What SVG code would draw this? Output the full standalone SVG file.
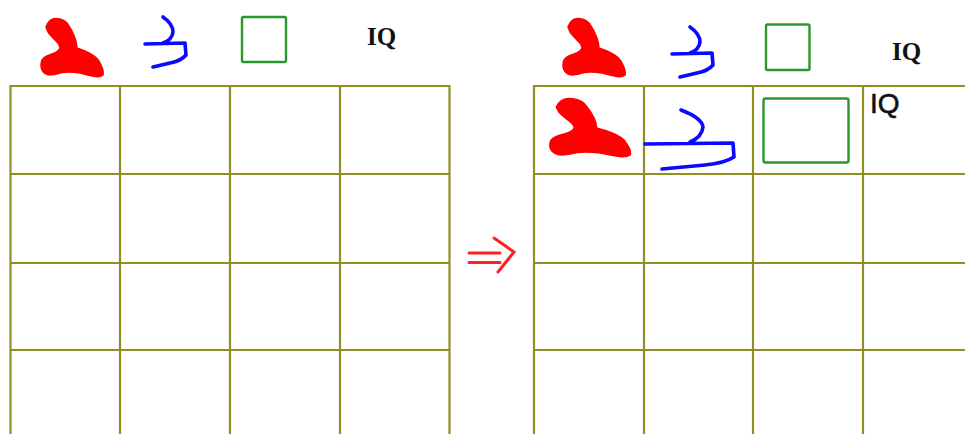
<svg xmlns="http://www.w3.org/2000/svg" width="965" height="434" viewBox="0 0 965 434">
<style>
.grid{stroke:#8f8f22;stroke-width:2.2;fill:none}
.red{fill:#ff0000;stroke:#ff0000;stroke-width:1.5;stroke-linejoin:round}
.blue{fill:none;stroke:#0a0aff;stroke-width:3.6;stroke-linecap:round;stroke-linejoin:round}
.green{fill:none;stroke:#2c962c;stroke-width:2.4}
.iq{font-family:"Liberation Serif",serif;font-weight:bold;font-size:25px;fill:#111}
.iqs{font-family:"Liberation Sans",sans-serif;font-size:28px;fill:#111;stroke:#111;stroke-width:0.6}
.arr{fill:none;stroke:#ff2020;stroke-width:3;stroke-linecap:round}
</style>
<defs>
<path id="redglyph" d="M46,27 Q49,19 55,18.5 Q63,18.5 67,23 Q72,30 75,38 Q77,44 77,48 Q83,50 89,53 Q97,57 100,63 Q104,70 103,75 Q100,77.5 95,76.5 Q88,75 80,73 Q70,71.5 62,72.5 Q55,74.5 50,75 Q44,74.5 42,70 Q40,65 42,60 Q45,56 52,54 Q58,52 60,48 Q60,45 57,42 Q51,36 48,32 Z"/>
<path id="blueglyph" d="M163,17 Q173,24 173,32 Q172,40 163,43 M145,44 L185,43 L186,55 Q181,61 170,63 L153,67"/>
</defs>
<g id="left-grid" class="grid">
<line x1="10" y1="86" x2="450" y2="86"/>
<line x1="10" y1="174" x2="450" y2="174"/>
<line x1="10" y1="263" x2="450" y2="263"/>
<line x1="10" y1="350" x2="450" y2="350"/>
<line x1="10.5" y1="85" x2="10.5" y2="434"/>
<line x1="120" y1="86" x2="120" y2="434"/>
<line x1="230" y1="86" x2="230" y2="434"/>
<line x1="340" y1="86" x2="340" y2="434"/>
<line x1="449.5" y1="85" x2="449.5" y2="434"/>
</g>
<g id="right-grid" class="grid">
<line x1="534" y1="86" x2="965" y2="86"/>
<line x1="534" y1="174" x2="965" y2="174"/>
<line x1="534" y1="263" x2="965" y2="263"/>
<line x1="534" y1="350" x2="965" y2="350"/>
<line x1="534" y1="85" x2="534" y2="434"/>
<line x1="644" y1="86" x2="644" y2="434"/>
<line x1="753" y1="86" x2="753" y2="434"/>
<line x1="863" y1="86" x2="863" y2="434"/>
</g>
<g id="left-legend">
<use href="#redglyph" class="red"/>
<use href="#blueglyph" class="blue"/>
<rect class="green" x="242" y="17" width="44" height="45" rx="1.5"/>
<text class="iq" x="367" y="45">IQ</text>
</g>
<g id="arrow">
<path class="arr" d="M469,253 L500,253 M469,262.5 L500,262.5 M494,238 L514,252 L498,272"/>
</g>
<g id="right-legend">
<use href="#redglyph" class="red" transform="translate(522,0)"/>
<use href="#blueglyph" class="blue" transform="translate(527,10)"/>
<rect class="green" x="766" y="24.5" width="43.5" height="45.5" rx="1.5"/>
<text class="iq" x="892" y="60">IQ</text>
</g>
<g id="right-cells">
<use href="#redglyph" class="red" transform="translate(550,98) scale(1.29,1) translate(-41,-18)"/>
<path class="blue" d="M681,110 Q702,118 703,127 Q702,137 690,142 M645,144 L733,143 L734,157 Q725,163 705,165 L662,169"/>
<rect class="green" x="763.5" y="98.5" width="85" height="64" rx="2"/>
<text class="iqs" x="870" y="113">IQ</text>
</g>
</svg>
